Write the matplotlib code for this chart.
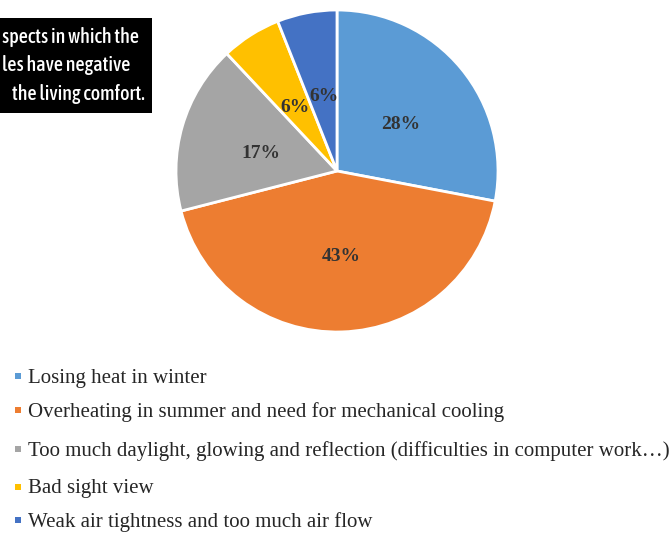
import matplotlib
matplotlib.use("Agg")
import matplotlib.pyplot as plt
from matplotlib.patches import Rectangle

categories = [
    "Losing heat in winter",
    "Overheating in summer and need for mechanical cooling",
    "Too much daylight, glowing and reflection (difficulties in computer work\u2026)",
    "Bad sight view",
    "Weak air tightness and too much air flow",
]
values = [28, 43, 17, 6, 6]
colors = ["#5B9BD5", "#ED7D31", "#A5A5A5", "#FFC000", "#4472C4"]
box_lines = ["spects in which the", "les have negative", "the living comfort."]

W, H = 672, 534
fig = plt.figure(figsize=(W / 100, H / 100), dpi=100)
fig.patch.set_facecolor("white")

cx, cy, r = 337, 171, 161
ax = fig.add_axes([(cx - r) / W, (H - cy - r) / H, 2 * r / W, 2 * r / H])
wedges, texts, autotexts = ax.pie(
    values, colors=colors, startangle=90, counterclock=False,
    autopct=lambda p: f"{p:.0f}%", pctdistance=0.5,
    wedgeprops=dict(edgecolor="white", linewidth=2),
    textprops=dict(family="Liberation Serif", fontsize=14, fontweight="bold", color="#333333"),
)
for t in autotexts:
    x, y = t.get_position()
    t.set_position((x + 0.01, y - 0.03))
ax.set_xlim(-1.0, 1.0)
ax.set_ylim(-1.0, 1.0)
ax.set_aspect("equal")
ax.axis("off")

# black box with text (top-left)
fig.patches.append(Rectangle((0, 1 - 113 / H), 152 / W, 95 / H, transform=fig.transFigure,
                             facecolor="black", edgecolor="none", zorder=5))
for line, xx, yy in zip(box_lines, [2, 2, 12], [37, 65, 94]):
    fig.text(xx / W, 1 - yy / H, line, color="white", fontsize=14.5, fontweight=500,
             family=["Asap Condensed", "DejaVu Sans"], va="center", ha="left", zorder=6)

# legend
ys = [378, 412, 451, 489, 522]
for cat, col, yy in zip(categories, colors, ys):
    fig.patches.append(Rectangle((15 / W, 1 - (yy + 1) / H), 6 / W, 6 / H, transform=fig.transFigure,
                                 facecolor=col, edgecolor="none"))
    fig.text(28 / W, 1 - yy / H, cat, fontsize=15, family="Liberation Serif",
             color="#262626", va="center", ha="left")

fig.savefig("out.png", dpi=100)
